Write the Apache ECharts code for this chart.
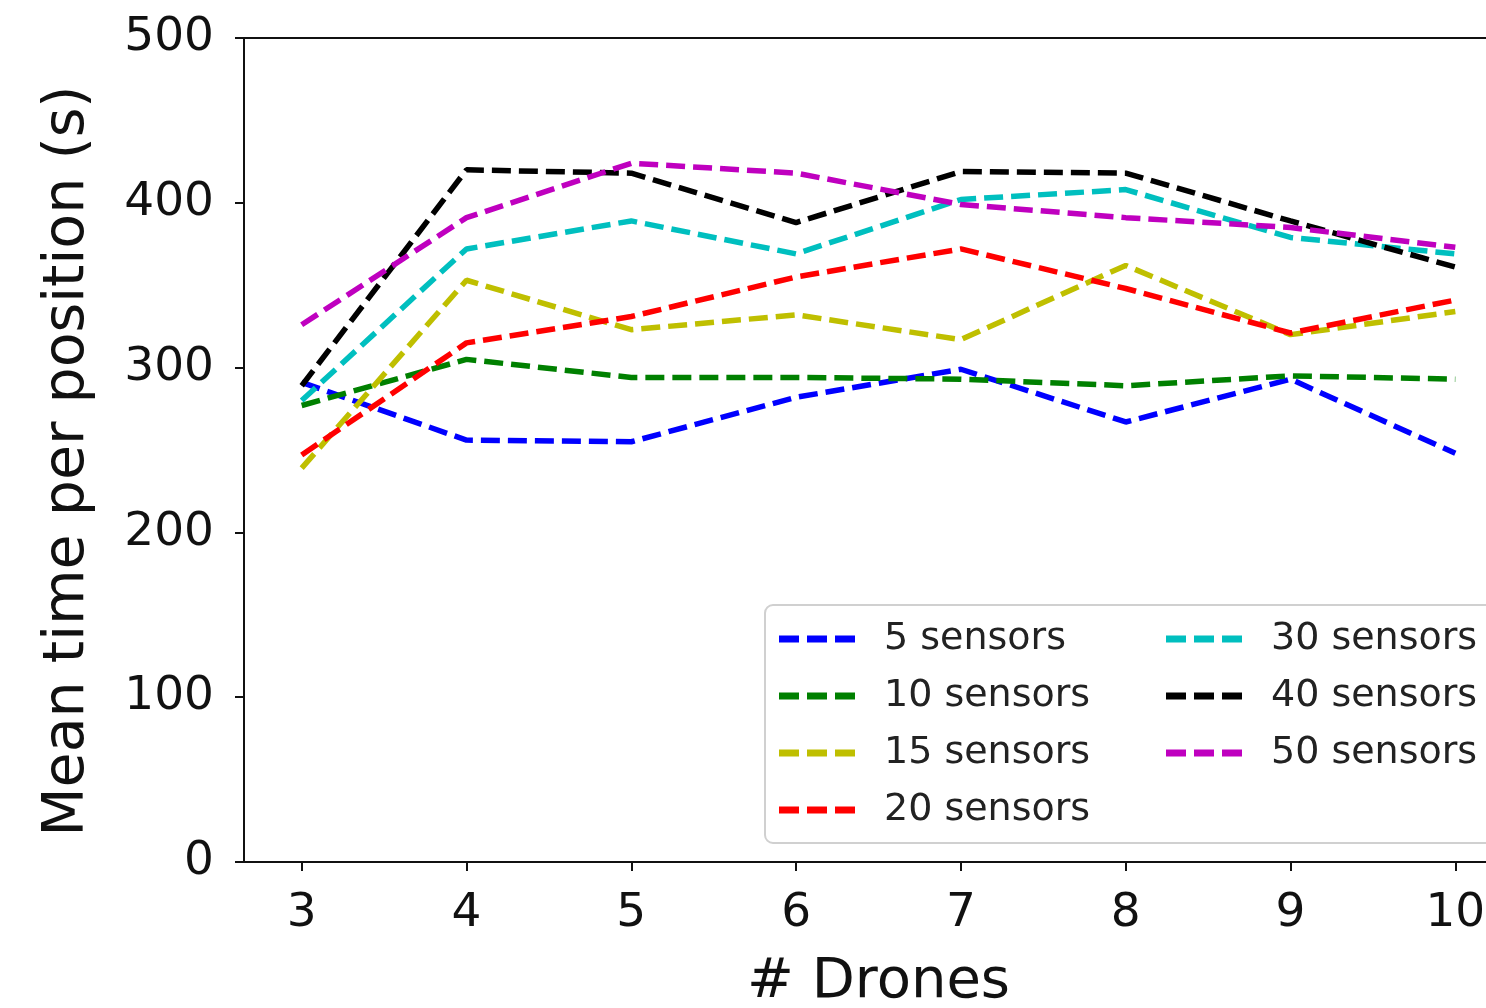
<!DOCTYPE html>
<html>
<head>
<meta charset="utf-8">
<script src="https://cdn.jsdelivr.net/npm/echarts@6/dist/echarts.min.js"></script>
<style>
  html, body { margin: 0; padding: 0; background: #fff; overflow: hidden; }
  #chart { width: 1513px; height: 1008px; }
</style>
</head>
<body>
<div id="chart"></div>
<script>
// number of drones
const drones = [3, 4, 5, 6, 7, 8, 9, 10];
const xTicks = [3, 4, 5, 6, 7, 8, 9, 10];

// mean time per position (s), one list per sensor count
const s5 = [291, 256, 255, 282, 299, 267, 293, 248];
const s10 = [277, 305, 294, 294, 293, 289, 295, 293];
const s15 = [239, 353, 323, 332, 317, 362, 320, 334];
const s20 = [247, 315, 331, 355, 372, 348, 321, 341];
const s30 = [280, 372, 389, 369, 402, 408, 379, 369];
const s40 = [289, 420, 418, 388, 419, 418, 389, 361];
const s50 = [326, 391, 424, 418, 399, 391, 385, 373];

const names = ['5 sensors', '10 sensors', '15 sensors', '20 sensors', '30 sensors', '40 sensors', '50 sensors'];
const colors = ['#0000ff', '#008000', '#bfbf00', '#ff0000', '#00bfbf', '#000000', '#bf00bf'];
const values = [s5, s10, s15, s20, s30, s40, s50];

const chart = echarts.init(document.getElementById('chart'));

const series = values.map((vals, i) => ({
  name: names[i],
  type: 'line',
  showSymbol: false,
  symbol: 'none',
  color: colors[i],
  lineStyle: { color: colors[i], width: 5.5, type: [19, 8] },
  data: vals.map((v, k) => [drones[k], v])
}));

const font = 'DejaVu Sans';
const legendText = { fontFamily: font, fontSize: 38, color: '#222', lineHeight: 38, padding: [0, 0, 0, 24] };
// three short dashes, like the legend handles
const dashIcon = 'path://M0,0H20V7H0Z M28,0H48V7H28Z M56,0H76V7H56Z';

chart.setOption({
  animation: false,
  grid: {
    left: 244, top: 38, right: 0, bottom: 146,
    show: true, borderColor: '#111', borderWidth: 2,
    containLabel: false, outerBoundsMode: 'none'
  },
  graphic: [{
    type: 'rect', z: 3,
    shape: { x: 765, y: 605, width: 800, height: 238, r: 8 },
    style: { fill: '#fff', stroke: '#d0d0d0', lineWidth: 2 }
  }],
  legend: [
    {
      data: names.slice(0, 4), orient: 'vertical', left: 774, top: 615,
      icon: dashIcon, itemWidth: 76, itemHeight: 7, itemGap: 19, textStyle: legendText,
      selectedMode: false, z: 5
    },
    {
      data: names.slice(4), orient: 'vertical', left: 1161, top: 615,
      icon: dashIcon, itemWidth: 76, itemHeight: 7, itemGap: 19, textStyle: legendText,
      selectedMode: false, z: 5
    }
  ],
  xAxis: {
    type: 'value', min: 2.65, max: 10.35,
    name: '# Drones', nameLocation: 'middle', nameGap: 92,
    nameTextStyle: { fontFamily: font, fontSize: 56, color: '#111' },
    axisLine: { onZero: false, lineStyle: { color: '#111', width: 2 } },
    axisTick: { show: true, length: 9, lineStyle: { color: '#111', width: 2 }, customValues: xTicks },
    axisLabel: { fontFamily: font, fontSize: 47, color: '#111', margin: 28, customValues: xTicks },
    splitLine: { show: false }
  },
  yAxis: {
    type: 'value', min: 0, max: 500, interval: 100,
    name: 'Mean time per position (s)', nameLocation: 'middle', nameGap: 147,
    nameTextStyle: { fontFamily: font, fontSize: 57, color: '#111', padding: [0, 22, 0, 0] },
    axisLine: { show: true, lineStyle: { color: '#111', width: 2 } },
    axisTick: { show: true, length: 9, lineStyle: { color: '#111', width: 2 } },
    axisLabel: { fontFamily: font, fontSize: 47, color: '#111', margin: 30 },
    splitLine: { show: false }
  },
  series: series
});
</script>
</body>
</html>
